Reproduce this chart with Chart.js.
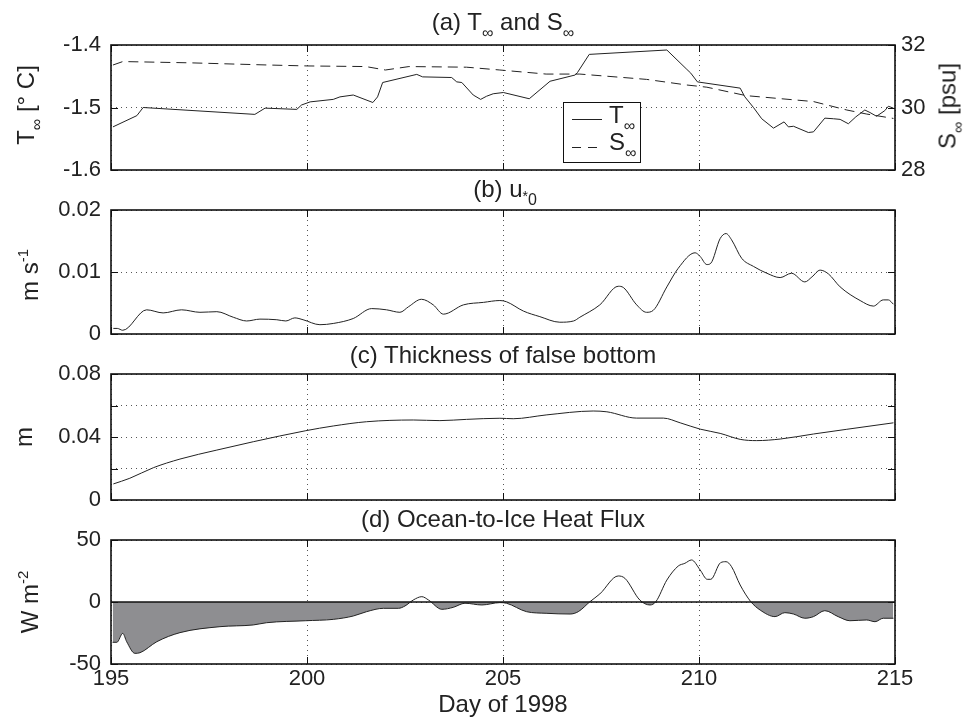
<!DOCTYPE html>
<html><head><meta charset="utf-8">
<script src="https://cdn.jsdelivr.net/npm/chart.js@4.4.1/dist/chart.umd.min.js"></script>
<style>
html,body{margin:0;padding:0;background:#fff;}
#wrap{position:relative;width:973px;height:717px;overflow:hidden;font-family:"Liberation Sans",Arial,sans-serif;color:#222;}
canvas{position:absolute;left:0;}
.t{position:absolute;font-size:24px;line-height:24px;white-space:nowrap;z-index:5;}
.ttl{transform:translateX(-50%);}
.yl{transform:translate(-50%,-50%) rotate(-90deg);}
.sub{font-size:16px;position:relative;top:8px;}
.sup{font-size:15px;position:relative;top:-10px;}
.box{position:absolute;z-index:4;}
</style></head>
<body><div id="wrap">
<canvas id="ca"></canvas><canvas id="cb"></canvas><canvas id="cc"></canvas><canvas id="cd"></canvas>
<div class="t ttl" style="left:503px;top:10px">(a) T<span class="sub">∞</span> and S<span class="sub">∞</span></div>
<div class="t ttl" style="left:505px;top:177px">(b) u<span style="font-size:14px;position:relative;top:4px">*</span><span class="sub">0</span></div>
<div class="t ttl" style="left:503px;top:343px">(c) Thickness of false bottom</div>
<div class="t ttl" style="left:503px;top:507px">(d) Ocean-to-Ice Heat Flux</div>
<div class="t ttl" style="left:503px;top:692px">Day of 1998</div>
<div class="t yl" style="left:27px;top:105px">T<span class="sub">∞</span> [° C]</div>
<div class="t yl" style="left:949px;top:106px">S<span class="sub">∞</span> [psu]</div>
<div class="t yl" style="left:31px;top:275px">m s<span class="sup">-1</span></div>
<div class="t yl" style="left:24px;top:437px">m</div>
<div class="t yl" style="left:31px;top:602px">W m<span class="sup">-2</span></div>
<div class="box" style="left:563px;top:102px;width:78px;height:61px;box-sizing:border-box;border:1.5px solid #111;background:#fff"></div>
<div class="box" style="left:572px;top:119px;width:30px;height:1px;background:#222"></div>
<div class="box" style="left:572px;top:147px;width:30px;height:1px;background:repeating-linear-gradient(to right,#222 0 9px,transparent 9px 16px)"></div>
<div class="t" style="left:609px;top:103px">T<span class="sub">∞</span></div>
<div class="t" style="left:609px;top:130px">S<span class="sub">∞</span></div>
</div>
<script>
// ---- data ----
const tDays = [195.05,195.66,195.82,198.67,198.93,199.74,199.86,200.08,200.67,200.84,201.18,201.68,201.8,201.93,202.8,202.95,203.69,203.82,203.95,204.24,204.43,204.58,204.75,205.01,205.67,206.2,206.84,206.9,207.2,209.18,209.69,209.79,209.96,211.05,211.17,211.39,211.6,211.9,212.17,212.28,212.41,212.79,212.92,213.21,213.43,213.6,213.81,214.0,214.23,214.36,214.53,214.74,214.83,214.96];
const tVals = [-1.531,-1.513,-1.500,-1.511,-1.501,-1.503,-1.496,-1.491,-1.487,-1.483,-1.480,-1.492,-1.483,-1.460,-1.447,-1.451,-1.452,-1.459,-1.460,-1.480,-1.487,-1.482,-1.478,-1.476,-1.486,-1.458,-1.448,-1.444,-1.415,-1.408,-1.439,-1.445,-1.459,-1.469,-1.483,-1.500,-1.518,-1.533,-1.523,-1.531,-1.530,-1.540,-1.539,-1.517,-1.518,-1.519,-1.526,-1.515,-1.504,-1.508,-1.514,-1.505,-1.498,-1.501];
const sDays = [195.05,195.3,197,199,200,201.5,202,202.6,204.07,204.92,205.1,206.1,206.96,208.66,209.69,210.2,211.2,212.92,213.77,214.28,214.96];
const sVals = [31.36,31.47,31.43,31.36,31.33,31.31,31.2,31.31,31.29,31.2,31.18,31.07,31.07,30.9,30.72,30.65,30.38,30.19,29.92,29.79,29.65];
const uDays = [195.06,195.16,195.3,195.91,196.33,196.8,197.27,197.7,198.12,198.46,198.8,199.23,199.46,199.69,199.9,200.33,200.67,201.18,201.65,202.03,202.37,202.59,202.92,203.22,203.48,203.99,204.5,204.92,205.09,205.52,205.94,206.45,206.8,206.96,207.47,207.94,208.07,208.41,208.66,208.83,209.18,209.47,209.9,210.03,210.2,210.3,210.54,210.69,210.83,211.09,211.39,211.73,212.07,212.36,212.7,212.88,213.09,213.3,213.6,214.11,214.45,214.7,214.83,214.96];
const uVals = [0.0009,0.0009,0.0006,0.0039,0.0034,0.0039,0.0035,0.0036,0.0027,0.0021,0.0024,0.0023,0.0021,0.0026,0.0023,0.0015,0.0017,0.0025,0.0041,0.0039,0.0035,0.0044,0.0056,0.0047,0.0032,0.0047,0.0051,0.0054,0.0052,0.0037,0.0028,0.0019,0.0021,0.0027,0.0047,0.0077,0.0075,0.0047,0.0035,0.0038,0.0076,0.0106,0.0131,0.0125,0.0112,0.0114,0.0154,0.0162,0.0152,0.0122,0.0109,0.0098,0.0091,0.0098,0.0084,0.0092,0.0103,0.0097,0.0076,0.0054,0.0045,0.0055,0.0055,0.0048];
const hDays = [195.06,195.48,196.08,196.76,197.7,198.63,199.97,200.67,201.52,202.71,203.39,204.07,204.92,205.26,206.1,207.3,207.65,208.41,209.09,209.52,210.03,210.54,211.05,211.47,212.07,212.92,213.77,214.96];
const hVals = [0.0102,0.0138,0.0205,0.026,0.0317,0.037,0.044,0.047,0.0497,0.0508,0.0504,0.0512,0.0519,0.0516,0.054,0.0565,0.056,0.052,0.052,0.049,0.045,0.0423,0.0385,0.0377,0.0387,0.0419,0.0449,0.049];
const qDays = [195.04,195.15,195.3,195.4,195.61,195.74,196.17,196.76,197.78,198.63,198.97,199.97,200.67,201.18,201.52,201.95,202.33,202.5,202.71,202.93,203.1,203.44,203.73,204.03,204.46,204.92,205.09,205.6,206.1,206.71,206.92,207.22,207.47,207.94,208.11,208.49,208.75,208.9,209.18,209.47,209.64,209.81,210.03,210.21,210.3,210.55,210.69,210.83,211.05,211.32,211.56,211.94,212.19,212.41,212.7,212.92,213.21,213.55,213.85,214.28,214.49,214.7,214.96];
const qVals = [-32.5,-32.5,-25.3,-32,-41.4,-40.9,-32,-24.7,-19.9,-18.5,-16.7,-15.1,-14,-11.3,-7.8,-5.1,-5.1,-3.2,1.6,4.3,1.6,-5.9,-4.3,-1,-2.4,-0.5,-1,-7.8,-9.1,-9.7,-7.8,0.3,6.5,21,19.1,1.6,-2.4,0.3,17.7,29,31.2,33.9,25.8,18.3,18.3,31.7,32.5,28.5,13.7,0.3,-6.5,-11.8,-8.6,-9.7,-13.1,-11.8,-7,-11.8,-15.1,-14.5,-15.9,-13.1,-13.1];
const zeroDays = [195, 215];
const zeroVals = [0, 0];
const dayTicks = [195, 200, 205, 210, 215];

// ---- helpers ----
const pts = (xs, ys) => xs.map((x, i) => ({x, y: ys[i]}));
Chart.defaults.font.family = '"Liberation Sans", Arial, sans-serif';
Chart.defaults.color = '#222';
Chart.defaults.animation = false;

const W = 973, PLOT_L = 111, PLOT_R = 895, PAD = 25;
const framePlugin = {
  id: 'frame',
  afterDatasetsDraw(chart) {
    const {ctx, chartArea: a, scales} = chart;
    const L = 7;
    ctx.save();
    ctx.strokeStyle = '#111';
    ctx.lineWidth = 1;
    ctx.beginPath();
    scales.x.ticks.forEach(t => {
      const px = Math.round(scales.x.getPixelForValue(t.value)) + 0.5;
      ctx.moveTo(px, a.bottom); ctx.lineTo(px, a.bottom - L);
      ctx.moveTo(px, a.top); ctx.lineTo(px, a.top + L);
    });
    const yl = scales.y, yr = scales.y1 || scales.y;
    yl.ticks.forEach(t => { const py = Math.round(yl.getPixelForValue(t.value)) + 0.5; ctx.moveTo(a.left, py); ctx.lineTo(a.left + L, py); });
    yr.ticks.forEach(t => { const py = Math.round(yr.getPixelForValue(t.value)) + 0.5; ctx.moveTo(a.right, py); ctx.lineTo(a.right - L, py); });
    ctx.stroke();
    ctx.lineWidth = 1.6;
    ctx.strokeRect(a.left, a.top, a.right - a.left, a.bottom - a.top);
    ctx.restore();
  }
};

function xAxis(showLabels) {
  return {
    type: 'linear', min: 195, max: 215,
    afterBuildTicks(s) { s.ticks = dayTicks.map(v => ({value: v})); },
    ticks: {display: showLabels, padding: 2, font: {size: 22}, maxRotation: 0, autoSkip: false, callback: v => String(v)},
    grid: {color: '#555', lineWidth: 1, drawTicks: false},
    border: {display: false, dash: [1, 4]},
    afterFit(s) { s.height = showLabels ? 30 : PAD; }
  };
}
function yAxis(min, max, step, fmt, right) {
  return {
    type: 'linear', min, max, position: right ? 'right' : 'left',
    ticks: {stepSize: step, padding: right ? 6 : 10, font: {size: 22}, callback: fmt},
    grid: {color: '#555', lineWidth: 1, drawTicks: false, drawOnChartArea: !right},
    border: {display: false, dash: [1, 4]},
    afterFit(s) { s.width = right ? (W - PLOT_R) : PLOT_L; }
  };
}
function lineDs(data, extra) {
  return Object.assign({data, borderColor: '#222', borderWidth: 1, pointRadius: 0, fill: false, tension: 0}, extra || {});
}
// plotTop / plotH: where the plot area should sit on the page
function make(id, plotTop, plotH, bottomH, datasets, scales, hasRight) {
  const cv = document.getElementById(id);
  cv.width = W; cv.height = PAD + plotH + bottomH;
  cv.style.top = (plotTop - PAD) + 'px';
  return new Chart(cv, {
    type: 'line',
    data: {datasets},
    options: {
      responsive: false, animation: false, devicePixelRatio: 1,
      layout: {padding: {top: PAD, left: 0, right: hasRight ? 0 : (W - PLOT_R), bottom: 0}},
      plugins: {legend: {display: false}, tooltip: {enabled: false}},
      scales
    },
    plugins: [framePlugin]
  });
}

// (a) T and S
make('ca', 45, 125, PAD, [
  lineDs(pts(tDays, tVals), {yAxisID: 'y'}),
  lineDs(pts(sDays, sVals), {yAxisID: 'y1', borderDash: [10, 6]})
], {
  x: xAxis(false),
  y: yAxis(-1.6, -1.4, 0.1, v => v.toFixed(1), false),
  y1: yAxis(28, 32, 2, v => String(v), true)
}, true);

// (b) u*0
make('cb', 210, 124, PAD, [
  lineDs(pts(uDays, uVals), {cubicInterpolationMode: 'monotone'})
], {
  x: xAxis(false),
  y: yAxis(0, 0.02, 0.01, v => Math.abs(v) < 1e-9 ? '0' : v.toFixed(2), false)
}, false);

// (c) thickness
make('cc', 374, 126, PAD, [
  lineDs(pts(hDays, hVals), {cubicInterpolationMode: 'monotone'})
], {
  x: xAxis(false),
  y: yAxis(0, 0.08, 0.02, v => { const k = Math.round(v * 100); return k % 4 === 0 ? (k === 0 ? '0' : v.toFixed(2)) : ''; }, false)
}, false);

// (d) heat flux
make('cd', 540, 124, 30, [
  lineDs(pts(zeroDays, zeroVals), {borderColor: '#111', borderWidth: 1.5}),
  lineDs(pts(qDays, qVals), {cubicInterpolationMode: 'monotone', fill: {target: {value: 0}, above: 'rgba(0,0,0,0)', below: '#8e8e91'}})
], {
  x: xAxis(true),
  y: yAxis(-50, 50, 50, v => String(v), false)
}, false);
</script>
</body></html>
